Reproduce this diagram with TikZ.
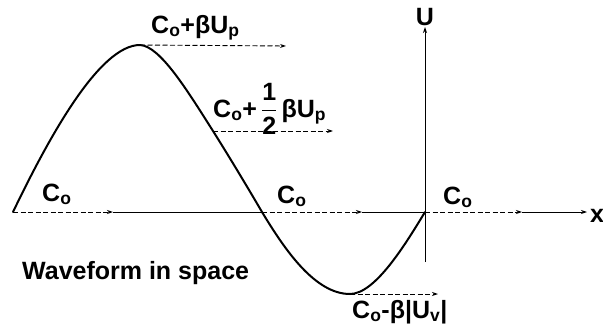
\documentclass[tikz,border=0pt]{standalone}
\usepackage{fontspec}
\setmainfont{Liberation Sans}
\usepackage{amsmath}
\usetikzlibrary{arrows.meta}

\begin{document}
\begin{tikzpicture}[x=1pt, y=-1pt,
    wave/.style={line width=2pt, line join=round, line cap=round},
    axis/.style={line width=0.9pt},
    tip/.style={-{Stealth[length=6pt, width=4pt]}},
    dasharr/.style={axis, tip, dash pattern=on 5pt off 2.5pt},
    lbl/.style={font=\fontsize{25}{29}\selectfont\bfseries, inner sep=0pt, anchor=base west},
]
\useasboundingbox (0,0) rectangle (603,332);

% points on the axes
\coordinate (o1) at (13,212);
\coordinate (m1) at (113,212);
\coordinate (o2) at (262,212);
\coordinate (m2) at (362,212);
\coordinate (o3) at (425,212);
\coordinate (m3) at (522,212);
\coordinate (xend) at (587,212);
\coordinate (ubot) at (425,262);
\coordinate (utop) at (425,27);

% points on the wave
\coordinate (peak) at (140,45);
\coordinate (half) at (213,131);
\coordinate (trough) at (350,294);
\coordinate (peakend) at (286,46);
\coordinate (halfend) at (333,131);
\coordinate (troughend) at (438,294);

% x axis
\draw[dasharr] (o1) -- (m1);
\draw[axis] (m1) -- (o2);
\draw[dasharr] (o2) -- (m2);
\draw[axis] (m2) -- (o3);
\draw[dasharr] (o3) -- (m3);
\draw[axis, tip] (m3) -- (xend);
\node[lbl] (xlbl) at (590,222) {x};

% U axis
\draw[axis, tip] (ubot) -- (utop);
\node[lbl, anchor=base] (ulbl) at (425,25) {U};

% waveform
\draw[wave] (o1) .. controls (50,135) and (100,45) .. (peak)
    .. controls (160,46) and (187,90) .. (half)
    .. controls (230,158) and (248,188) .. (o2)
    .. controls (285,250) and (315,294) .. (trough)
    .. controls (375,294) and (405,245) .. (o3);

% speed arrows
\draw[dasharr] (peak) -- (peakend);
\draw[dasharr] (half) -- (halfend);
\draw[dasharr] (trough) -- (troughend);

% labels
\node[lbl] (cpeak) at (151,33) {C\textsubscript{o}+βU\textsubscript{p}};
\node[lbl] (chalf) at (213,117) {C\textsubscript{o}+\,$\dfrac{\text{1}}{\text{2}}$\,βU\textsubscript{p}};
\node[lbl] (ctrough) at (352,318) {C\textsubscript{o}-β|U\textsubscript{v}|};
\node[lbl] (c1) at (42,201) {C\textsubscript{o}};
\node[lbl] (c2) at (277,203) {C\textsubscript{o}};
\node[lbl] (c3) at (443,204) {C\textsubscript{o}};
\node[lbl] (title) at (22,279) {Waveform in space};
\end{tikzpicture}
\end{document}
